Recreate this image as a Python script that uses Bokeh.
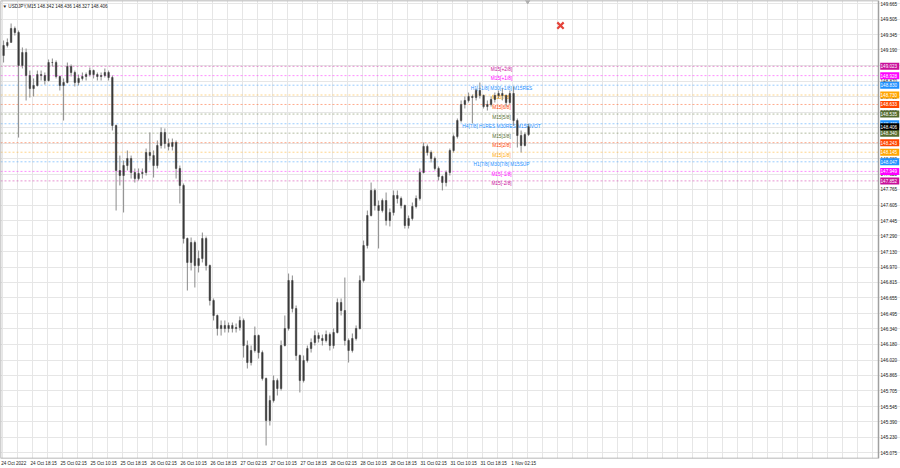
from bokeh.plotting import figure
from bokeh.models import Range1d, FixedTicker, ColumnDataSource
from bokeh.core.properties import value
from bokeh.embed import file_html
from bokeh.resources import INLINE

FONT = "Liberation Sans"

header_text = "USDJPY,M15  148.342 148.436 148.327 148.406"

# H1 candles (prices)
first_open = 149.134
highs = [
    149.287, 149.308, 149.461, 149.430, 149.389, 149.216, 149.205, 148.980, 148.899, 148.980,
    148.980, 148.960, 149.093, 149.103, 149.083, 148.929, 148.899, 149.062, 149.042, 148.980,
    148.939, 148.960, 148.960, 149.011, 148.990, 148.960, 148.960, 149.001, 148.980, 148.929,
    148.428, 148.111, 148.060, 148.163, 148.111, 147.979, 147.979, 147.979, 148.183, 148.347,
    148.163, 148.265, 148.398, 148.388, 148.285, 148.285, 148.265, 148.009, 147.825, 147.273,
    147.273, 147.242, 147.140, 147.324, 147.283, 146.997, 146.650, 146.486, 146.425, 146.425,
    146.404, 146.404, 146.394, 146.466, 146.445, 146.220, 146.169, 146.363, 146.281, 146.118,
    145.842, 145.658, 145.862, 145.832, 146.220, 146.476, 146.905, 146.885, 146.578, 146.077,
    146.067, 146.169, 146.241, 146.322, 146.302, 146.281, 146.322, 146.302, 146.343, 146.650,
    146.650, 146.864, 146.241, 146.292, 146.374, 146.885, 147.242, 147.549, 147.835, 147.774,
    147.651, 147.672, 147.733, 147.570, 147.754, 147.754, 147.692, 147.610, 147.498, 147.631,
    147.703, 147.979, 148.244, 148.224, 148.163, 148.101, 147.999, 147.907, 147.958, 148.183,
    148.326, 148.490, 148.674, 148.715, 148.755, 148.735, 148.796, 148.858, 148.735, 148.674,
    148.715, 148.755, 148.776, 148.796, 148.735, 148.776, 148.817, 148.490, 148.367, 148.347,
    148.436,
]
lows = [
    149.062, 149.216, 149.287, 149.338, 148.295, 149.001, 148.674, 148.704, 148.715, 148.817,
    148.878, 148.837, 148.868, 149.021, 148.899, 148.776, 148.469, 148.848, 148.919, 148.817,
    148.827, 148.878, 148.878, 148.919, 148.899, 148.878, 148.878, 148.909, 148.878, 148.367,
    147.549, 147.805, 147.529, 147.958, 147.876, 147.835, 147.856, 147.876, 147.907, 148.060,
    147.886, 147.979, 148.183, 148.183, 148.163, 148.163, 147.876, 147.621, 147.212, 146.731,
    146.936, 146.762, 146.916, 147.018, 146.936, 146.578, 146.425, 146.271, 146.271, 146.302,
    146.302, 146.302, 146.302, 146.322, 146.046, 145.934, 145.965, 146.097, 146.036, 145.811,
    145.147, 145.351, 145.586, 145.658, 145.709, 146.159, 146.322, 146.507, 146.016, 145.689,
    145.791, 145.995, 146.097, 146.169, 146.200, 146.169, 146.200, 146.118, 146.138, 146.292,
    146.476, 146.169, 145.995, 146.097, 146.220, 146.333, 146.813, 147.161, 147.488, 147.549,
    147.161, 147.529, 147.396, 147.386, 147.498, 147.621, 147.570, 147.365, 147.365, 147.447,
    147.570, 147.651, 147.928, 148.111, 148.040, 147.958, 147.856, 147.754, 147.795, 147.907,
    148.142, 148.285, 148.449, 148.592, 148.653, 148.439, 148.674, 148.694, 148.592, 148.571,
    148.612, 148.653, 148.694, 148.674, 148.612, 148.633, 148.418, 148.193, 148.142, 148.204,
    148.310,
]
closes = [
    149.236, 149.267, 149.410, 149.369, 149.032, 149.164, 148.929, 148.796, 148.827, 148.939,
    148.929, 148.878, 149.062, 149.062, 148.919, 148.827, 148.858, 149.021, 148.960, 148.858,
    148.899, 148.919, 148.939, 148.980, 148.939, 148.919, 148.929, 148.960, 148.909, 148.418,
    147.958, 147.907, 148.009, 148.081, 147.938, 147.876, 147.927, 147.938, 148.142, 148.111,
    148.009, 148.214, 148.347, 148.234, 148.204, 148.244, 147.979, 147.805, 147.263, 147.018,
    147.222, 146.987, 147.058, 147.263, 146.987, 146.629, 146.476, 146.343, 146.374, 146.343,
    146.374, 146.343, 146.353, 146.425, 146.169, 145.995, 146.118, 146.271, 146.097, 145.832,
    145.402, 145.607, 145.811, 145.729, 146.169, 146.343, 146.834, 146.547, 146.067, 145.811,
    146.016, 146.138, 146.200, 146.271, 146.241, 146.220, 146.281, 146.169, 146.302, 146.609,
    146.527, 146.220, 146.118, 146.241, 146.343, 146.834, 147.191, 147.498, 147.754, 147.600,
    147.549, 147.651, 147.447, 147.529, 147.703, 147.672, 147.600, 147.396, 147.467, 147.590,
    147.672, 147.938, 148.204, 148.142, 148.081, 147.979, 147.897, 147.835, 147.938, 148.163,
    148.306, 148.469, 148.633, 148.674, 148.715, 148.704, 148.776, 148.725, 148.612, 148.633,
    148.684, 148.725, 148.745, 148.725, 148.653, 148.745, 148.469, 148.316, 148.214, 148.326,
    148.406,
]
opens = [first_open] + closes[:-1]

bars_per_candle = 4  # M15 bars in one H1 candle
candle_x = [bars_per_candle * i + 1.5 for i in range(len(closes))]

xtick_positions = [32 * k for k in range(18)]
xtick_labels = ["24 Oct 2022", "24 Oct 18:15", "25 Oct 02:15", "25 Oct 10:15", "25 Oct 18:15",
                "26 Oct 02:15", "26 Oct 10:15", "26 Oct 18:15", "27 Oct 02:15", "27 Oct 10:15",
                "27 Oct 18:15", "28 Oct 02:15", "28 Oct 10:15", "28 Oct 18:15", "31 Oct 02:15",
                "31 Oct 10:15", "31 Oct 18:15", "1 Nov 02:15"]
label_half_width = 12.3  # labels start at their tick, Bokeh centres them
xgrid_step = 16

ytick_values = [149.665, 149.505, 149.345, 149.190, 149.030, 148.870, 148.710, 148.555, 148.395,
                148.235, 148.080, 147.920, 147.765, 147.605, 147.445, 147.290, 147.130, 146.970,
                146.815, 146.655, 146.495, 146.340, 146.180, 146.020, 145.865, 145.705, 145.545,
                145.390, 145.230, 145.075]

level_prices = [149.023, 148.928, 148.830, 148.730, 148.633, 148.535, 148.436,
                148.340, 148.243, 148.145, 148.047, 147.949, 147.852]
level_names = ["M15[+2/8]", "M15[+1/8]", "H1[+1/8] M30[+1/8] M15RES", "M15[7/8]", "M15[6/8]",
               "M15[5/8]", "H4[7/8] H1RES M30RES M15PIVOT", "M15[3/8]", "M15[2/8]", "M15[1/8]",
               "H1[7/8] M30[7/8] M15SUP", "M15[-1/8]", "M15[-2/8]"]
level_colors = ["#C8109A", "#FF00FF", "#1E90FF", "#FFA500", "#FF4500", "#556B2F", "#1E90FF",
                "#556B2F", "#FF4500", "#FFA500", "#1E90FF", "#FF00FF", "#C8109A"]
level_label_x = 532.6

current_price = 148.406
cross_x, cross_y = 595.5, 149.44
shift_marker_x = 560.5

# price scale: 0.9375 px per M15 bar, frame covers the whole canvas width
x_start, x_end = -1.81, 958.19
chart_end = 934.72          # right edge of the price area
y_low, y_high = 145.014, 149.696

p = figure(width=900, height=468, x_range=Range1d(x_start, x_end), y_range=Range1d(y_low, y_high),
           output_backend="svg", toolbar_location=None,
           min_border_left=0, min_border_right=0, min_border_top=0, min_border_bottom=10,
           background_fill_color="white", border_fill_color="white")
p.outline_line_color = None
p.yaxis.visible = False

# grid
p.xgrid.ticker = FixedTicker(ticks=list(range(0, int(chart_end) + 1, xgrid_step)))
p.ygrid.ticker = FixedTicker(ticks=ytick_values)
p.xgrid.grid_line_color = "#e6e6e6"
p.ygrid.grid_line_color = "#e6e6e6"

# x axis (labels start at their time position)
shifted = [x + label_half_width for x in xtick_positions]
p.xaxis.ticker = FixedTicker(ticks=shifted)
p.xaxis.major_label_overrides = {x: s for x, s in zip(shifted, xtick_labels)}
p.xaxis.major_label_text_font = FONT
p.xaxis.major_label_text_font_size = "4.6px"
p.xaxis.major_label_text_color = "#222222"
p.xaxis.major_label_standoff = 2
p.xaxis.major_tick_out = 0
p.xaxis.major_tick_in = 0
p.xaxis.minor_tick_line_color = None
p.xaxis.axis_line_color = None

# levels
lv = ColumnDataSource(dict(y=level_prices, name=level_names, color=level_colors,
                           x=[level_label_x] * len(level_prices),
                           x0=[x_start] * len(level_prices), x1=[chart_end] * len(level_prices),
                           bx=[chart_end + 12.0] * len(level_prices),
                           tx=[chart_end + 2.2] * len(level_prices),
                           txt=[f"{v:.3f}" for v in level_prices]))
p.segment(x0="x0", y0="y", x1="x1", y1="y", source=lv, line_color="color", line_dash="2 2",
          line_width=1, line_alpha=0.45)
p.text(x="x", y="y", text="name", source=lv, text_color="color", text_align="center",
       text_baseline="top", y_offset=0.5, text_font=value(FONT), text_font_size="4.8px")

# candles
src = ColumnDataSource(dict(
    x=candle_x, o=opens, h=highs, l=lows, c=closes,
    top=[max(a, b) for a, b in zip(opens, closes)],
    bot=[min(a, b) for a, b in zip(opens, closes)],
))
p.segment(x0="x", y0="l", x1="x", y1="h", source=src, line_color="#8a8a8a", line_width=1)
p.vbar(x="x", width=1.6, top="top", bottom="bot", source=src,
       fill_color="#3a3a3a", line_color="#3a3a3a", line_width=0.5)

# header
p.text(x=[x_start], y=[y_high], text=["\u25BC " + header_text], text_align="left", text_baseline="top",
       x_offset=2, y_offset=3, text_font=value(FONT), text_font_size="4.6px", text_color="#222222")

# red cross object and chart-shift marker
p.scatter(x=[cross_x], y=[cross_y], marker="x", size=9, line_width=2.2, line_color="#E4433A")
p.scatter(x=[shift_marker_x], y=[y_high], marker="inverted_triangle", size=6,
          fill_color="#b0b0b0", line_color="#b0b0b0")

# price-area frame
p.quad(left=[x_start], right=[chart_end], bottom=[y_low], top=[y_high], fill_color=None,
       line_color="#a0a0a0", line_width=1.5)

# right price scale: tick labels, then the coloured level boxes over them
p.text(x=[chart_end + 2.2] * len(ytick_values), y=ytick_values, text=[f"{v:.3f}" for v in ytick_values],
       text_align="left", text_baseline="middle", text_font=value(FONT), text_font_size="4.6px",
       text_color="#222222")
p.rect(x="bx", y="y", width=19, height=7, width_units="screen", height_units="screen",
       source=lv, fill_color="color", line_color=None)
p.text(x="tx", y="y", text="txt", source=lv, text_align="left", text_baseline="middle",
       text_font=value(FONT), text_font_size="4.6px", text_color="white")
p.rect(x=[chart_end + 12.0], y=[current_price], width=19, height=7, width_units="screen",
       height_units="screen", fill_color="#000000", line_color=None)
p.text(x=[chart_end + 2.2], y=[current_price], text=[f"{current_price:.3f}"], text_align="left",
       text_baseline="middle", text_font=value(FONT), text_font_size="4.6px", text_color="white")

open("out.html", "w").write(file_html(p, INLINE))
